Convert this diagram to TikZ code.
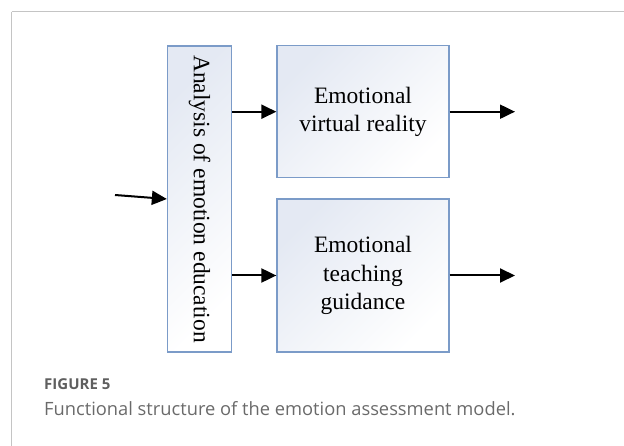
\documentclass[tikz,border=0pt]{standalone}
\usepackage{fontspec}
\setmainfont{Liberation Serif}
\newfontfamily\capfont{Open Sans}
\usepackage{tikz}
\usetikzlibrary{arrows.meta,positioning}
\definecolor{boxblue}{HTML}{7B9BC8}
\definecolor{boxfill}{HTML}{E4E9F3}
\definecolor{framegray}{HTML}{C4C4C4}
\definecolor{capgray}{HTML}{6A6A6A}

\begin{document}
\begin{tikzpicture}[x=1pt,y=-1pt,
    box/.style={draw=boxblue, line width=1.3pt, top color=boxfill, bottom color=white, shading angle=45, inner sep=0pt},
    txt/.style={font=\fontsize{23.5}{28.5}\selectfont, align=center},
    link/.style={-{Triangle[length=15pt,width=14pt]}, line width=2pt}]
    \useasboundingbox (0,0) rectangle (624,446);
    \draw[framegray, line width=1pt] (11.5,12) -- (640,12);
    \draw[framegray, line width=1pt] (11.5,12) -- (11.5,460);

    \node[box, minimum width=64pt, minimum height=306pt] (analysis) at (199.5,199) {};
    \node[txt, rotate=-90] at (analysis) {Analysis of emotion education};
    \node[box, txt, minimum width=172pt, minimum height=132pt] (vr) at (363,111.7) {Emotional\\virtual reality};
    \node[box, txt, minimum width=172pt, minimum height=153pt] (guide) at (363,275.5) {Emotional\\teaching\\guidance};

    \coordinate (in) at (115,195);
    \coordinate (vrout) at (515,111.7);
    \coordinate (guideout) at (515,275.5);

    \draw[link] (in) -- (analysis.west);
    \draw[link] (analysis.east |- vr.west) -- (vr.west);
    \draw[link] (analysis.east |- guide.west) -- (guide.west);
    \draw[link] (vr.east) -- (vrout);
    \draw[link] (guide.east) -- (guideout);

    % caption
    \node[anchor=base west, inner sep=0pt, text=capgray!90!black, font=\capfont\fontsize{15}{17}\selectfont\bfseries] (fig) at (44,389) {FIGURE 5};
    \node[anchor=base west, inner sep=0pt, text=capgray, font=\capfont\fontsize{18.3}{22}\selectfont] (cap) at (44,415) {Functional structure of the emotion assessment model.};
\end{tikzpicture}
\end{document}
